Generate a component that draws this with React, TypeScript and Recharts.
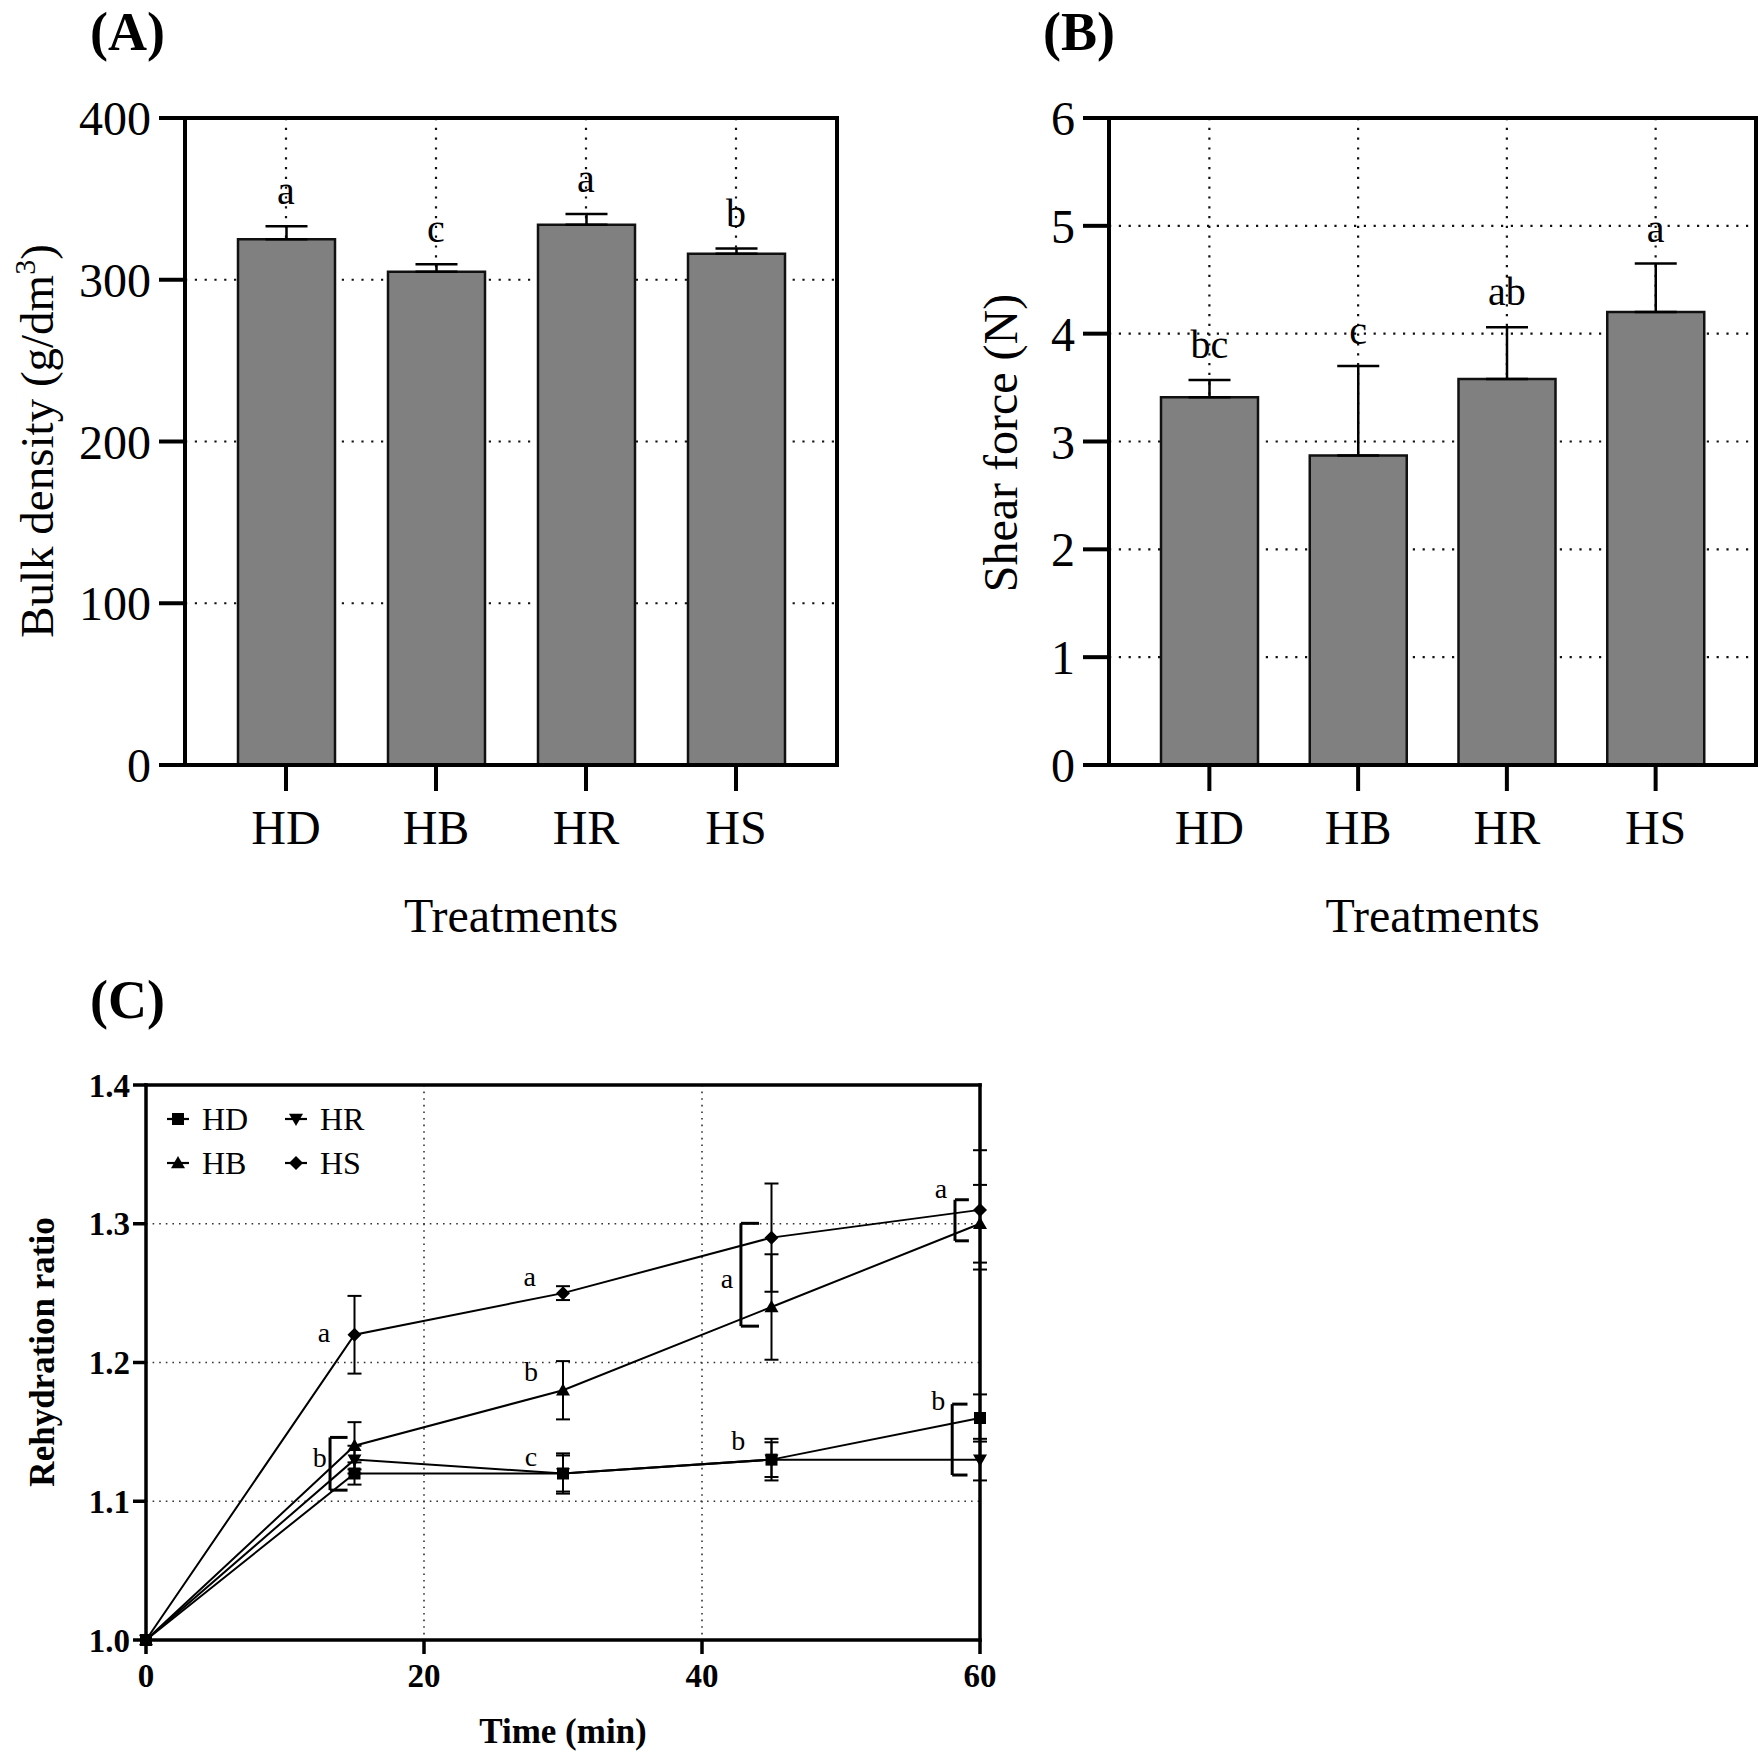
import React from 'react';
import {
  ComposedChart,
  Bar,
  Line,
  XAxis,
  YAxis,
  CartesianGrid,
  ErrorBar,
  LabelList,
  ReferenceLine,
  ReferenceDot,
  Legend,
} from 'recharts';

const FONT = '"Liberation Serif", "Times New Roman", Times, serif';

// ---------- Panel A / B data ----------
const treatments = ['HD', 'HB', 'HR', 'HS'];
const bulkDensity = [325, 305, 334, 316];
const bulkDensitySD = [8, 4.6, 6.7, 3.3];
const bulkLetters = ['a', 'c', 'a', 'b'];
const bulkTicks = [0, 100, 200, 300, 400];

const shearForce = [3.41, 2.87, 3.58, 4.2];
const shearForceSD = [0.16, 0.83, 0.48, 0.45];
const shearLetters = ['bc', 'c', 'ab', 'a'];
const shearTicks = [0, 1, 2, 3, 4, 5, 6];

// ---------- Panel C data ----------
const times = [0, 15, 30, 45, 60];
const hdRatio = [1.0, 1.12, 1.12, 1.13, 1.16];
const hdSD = [0, 0.008, 0.0145, 0.015, 0.017];
const hbRatio = [1.0, 1.14, 1.18, 1.24, 1.3];
const hbSD = [0, 0.017, 0.021, 0.038, 0.028];
const hrRatio = [1.0, 1.13, 1.12, 1.13, 1.13];
const hrSD = [0, 0.01, 0.013, 0.0125, 0.015];
const hsRatio = [1.0, 1.22, 1.25, 1.29, 1.31];
const hsSD = [0, 0.028, 0.005, 0.039, 0.043];
const timeTicks = [0, 20, 40, 60];
const ratioTicks = [1.0, 1.1, 1.2, 1.3, 1.4];

// significance letters (time, ratio, text)
const ratioLetterText = ['a', 'b', 'a', 'b', 'c', 'a', 'b', 'a', 'b'];
const ratioLetterTime = [12.8, 12.5, 27.6, 27.7, 27.7, 41.8, 42.6, 57.2, 57.0];
const ratioLetterValue = [1.221, 1.131, 1.2615, 1.1925, 1.1312, 1.2596, 1.143, 1.3248, 1.1718];

// significance brackets
const bracketTime = [13.24, 42.8, 58.2, 58.0];
const bracketArmTime = [14.5, 44.1, 59.2, 59.1];
const bracketLow = [1.108, 1.2262, 1.2877, 1.1189];
const bracketHigh = [1.146, 1.3003, 1.3173, 1.17];

type BarRow = { name: string; value: number; sd: number[]; top: number; letter: string };

function buildBarRows(values: number[], sds: number[], letters: string[]): BarRow[] {
  return treatments.map((name, i) => ({
    name,
    value: values[i],
    sd: [0, sds[i]],
    top: values[i] + sds[i],
    letter: letters[i],
  }));
}

const bulkRows = buildBarRows(bulkDensity, bulkDensitySD, bulkLetters);
const shearRows = buildBarRows(shearForce, shearForceSD, shearLetters);

const ratioRows = times.map((t, i) => ({
  t,
  HD: hdRatio[i],
  HDsd: hdSD[i],
  HB: hbRatio[i],
  HBsd: hbSD[i],
  HR: hrRatio[i],
  HRsd: hrSD[i],
  HS: hsRatio[i],
  HSsd: hsSD[i],
}));

const ratioLetters = ratioLetterText.map((text, i) => ({
  text,
  t: ratioLetterTime[i],
  v: ratioLetterValue[i],
}));

const brackets = bracketTime.map((t, i) => ({
  t,
  arm: bracketArmTime[i],
  lo: bracketLow[i],
  hi: bracketHigh[i],
}));

// ---------- Bar panel ----------
type BarPanelProps = {
  rows: BarRow[];
  ticks: number[];
  yMax: number;
  plotLeft: number;
  plotRight: number;
  yLabel: React.ReactNode;
  yLabelX: number;
  yLabelY: number;
  yLabelSize: number;
};

function BarPanel(p: BarPanelProps) {
  const width = 880;
  const height = 950;
  const plotTop = 118;
  const plotBottom = 765;
  const yAxisWidth = 100;
  const xAxisHeight = 60;
  const margin = {
    top: plotTop - 1,
    right: width - p.plotRight - 1,
    bottom: height - plotBottom - xAxisHeight,
    left: p.plotLeft - yAxisWidth,
  };
  const axisStyle: any = { stroke: '#000', strokeWidth: 4, strokeLinecap: 'square' };
  const tickLine: any = { stroke: '#000', strokeWidth: 4 };
  const tickStyle: any = { fontFamily: FONT, fontSize: 48, fill: '#000' };
  const xCenter = (p.plotLeft + p.plotRight) / 2;

  const renderXLabel = () => (
    <text x={xCenter} y={932} textAnchor="middle" fontFamily={FONT} fontSize={48} fill="#000">
      Treatments
    </text>
  );
  const renderYLabel = () => (
    <text
      x={p.yLabelX}
      y={p.yLabelY}
      transform={`rotate(-90 ${p.yLabelX} ${p.yLabelY})`}
      textAnchor="middle"
      fontFamily={FONT}
      fontSize={p.yLabelSize}
      fill="#000"
    >
      {p.yLabel}
    </text>
  );
  const renderLetter = (lp: any) => (
    <text
      x={lp.x}
      y={lp.y - 22}
      textAnchor="middle"
      fontFamily={FONT}
      fontSize={40}
      fill="#000"
    >
      {lp.value}
    </text>
  );

  return (
    <ComposedChart width={width} height={height} data={p.rows} margin={margin}>
      <CartesianGrid stroke="#111" strokeWidth={2.2} strokeDasharray="2.2 7.6" />
      <XAxis
        dataKey="name"
        type="category"
        height={xAxisHeight}
        padding={{ left: 26, right: 26 }}
        axisLine={axisStyle}
        tickLine={tickLine}
        tickSize={26}
        tickMargin={19}
        tick={tickStyle}
        interval={0}
        label={{ content: renderXLabel } as any}
      />
      <XAxis
        xAxisId="top"
        orientation="top"
        dataKey="name"
        type="category"
        height={1}
        padding={{ left: 26, right: 26 }}
        tick={false}
        tickLine={false}
        axisLine={axisStyle}
      />
      <YAxis
        type="number"
        domain={[0, p.yMax]}
        ticks={p.ticks}
        interval={0}
        width={yAxisWidth}
        axisLine={axisStyle}
        tickLine={tickLine}
        tickSize={26}
        tickMargin={8}
        tick={tickStyle}
        label={{ content: renderYLabel } as any}
      />
      <YAxis
        yAxisId="right"
        orientation="right"
        type="number"
        domain={[0, p.yMax]}
        ticks={p.ticks}
        width={1}
        tick={false}
        tickLine={false}
        axisLine={axisStyle}
      />
      <Bar
        dataKey="value"
        fill="#808080"
        stroke="#111"
        strokeWidth={2.5}
        barSize={97}
        isAnimationActive={false}
      >
        <ErrorBar dataKey="sd" width={21} stroke="#000" strokeWidth={2.5} direction="y" />
      </Bar>
      <Line
        dataKey="top"
        xAxisId="top"
        yAxisId="right"
        stroke="none"
        dot={false}
        activeDot={false}
        legendType="none"
        isAnimationActive={false}
      >
        <LabelList dataKey="letter" content={renderLetter} />
      </Line>
    </ComposedChart>
  );
}

// ---------- markers ----------
const markerSquare = (cx: number, cy: number, s = 6) => (
  <rect x={cx - s} y={cy - s} width={2 * s} height={2 * s} fill="#000" />
);
const markerUp = (cx: number, cy: number, s = 7) => (
  <polygon points={`${cx},${cy - s} ${cx + s},${cy + s * 0.75} ${cx - s},${cy + s * 0.75}`} fill="#000" />
);
const markerDown = (cx: number, cy: number, s = 7) => (
  <polygon points={`${cx - s},${cy - s * 0.75} ${cx + s},${cy - s * 0.75} ${cx},${cy + s}`} fill="#000" />
);
const markerDiamond = (cx: number, cy: number, s = 7) => (
  <polygon points={`${cx},${cy - s} ${cx + s},${cy} ${cx},${cy + s} ${cx - s},${cy}`} fill="#000" />
);

const markers: Record<string, (cx: number, cy: number, s?: number) => React.ReactElement> = {
  HD: markerSquare,
  HB: markerUp,
  HR: markerDown,
  HS: markerDiamond,
};

const makeDot = (name: string) => (props: any) => (
  <g key={`${name}-${props.index}`}>{markers[name](props.cx, props.cy)}</g>
);

// legend, row-major
const legendEntries = ['HD', 'HR', 'HB', 'HS'];

function RatioLegend() {
  return (
    <svg width={280} height={100} style={{ overflow: 'visible' }}>
      {legendEntries.map((name, i) => {
        const col = i % 2;
        const row = Math.floor(i / 2);
        const cx = 28 + col * 118;
        const cy = 29 + row * 44;
        return (
          <g key={name}>
            <line x1={cx - 11} x2={cx + 11} y1={cy} y2={cy} stroke="#000" strokeWidth={2.2} />
            {markers[name](cx, cy, name === 'HD' ? 6 : 7)}
            <text x={cx + 24} y={cy + 11} fontFamily={FONT} fontSize={32} fill="#000">
              {name}
            </text>
          </g>
        );
      })}
    </svg>
  );
}

function RatioPanel() {
  const width = 1000;
  const height = 805;
  const plotLeft = 146;
  const plotRight = 980;
  const plotTop = 135;
  const plotBottom = 690;
  const yAxisWidth = 80;
  const xAxisHeight = 60;
  const margin = {
    top: plotTop - 1,
    right: width - plotRight - 1,
    bottom: height - plotBottom - xAxisHeight,
    left: plotLeft - yAxisWidth,
  };
  const axisStyle: any = { stroke: '#000', strokeWidth: 3.5, strokeLinecap: 'square' };
  const tickLine: any = { stroke: '#000', strokeWidth: 3.5 };
  const tickStyle: any = { fontFamily: FONT, fontSize: 33, fontWeight: 'bold', fill: '#000' };

  const renderXLabel = () => (
    <text x={563} y={793} textAnchor="middle" fontFamily={FONT} fontSize={35} fontWeight="bold" fill="#000">
      Time (min)
    </text>
  );
  const renderYLabel = () => (
    <text
      x={54}
      y={402}
      transform="rotate(-90 54 402)"
      textAnchor="middle"
      fontFamily={FONT}
      fontSize={35}
      fontWeight="bold"
      fill="#000"
    >
      Rehydration ratio
    </text>
  );

  const seriesOrder = ['HS', 'HB', 'HR', 'HD'];

  return (
    <ComposedChart width={width} height={height} data={ratioRows} margin={margin}>
      <CartesianGrid stroke="#333" strokeWidth={1.6} strokeDasharray="1.6 5" />
      <XAxis
        dataKey="t"
        type="number"
        domain={[0, 60]}
        ticks={timeTicks}
        interval={0}
        height={xAxisHeight}
        axisLine={axisStyle}
        tickLine={tickLine}
        tickSize={14}
        tickMargin={10}
        tick={tickStyle}
        label={{ content: renderXLabel } as any}
      />
      <XAxis
        xAxisId="top"
        orientation="top"
        dataKey="t"
        type="number"
        domain={[0, 60]}
        ticks={timeTicks}
        height={1}
        tick={false}
        tickLine={false}
        axisLine={axisStyle}
      />
      <YAxis
        type="number"
        domain={[1.0, 1.4]}
        ticks={ratioTicks}
        interval={0}
        width={yAxisWidth}
        axisLine={axisStyle}
        tickLine={tickLine}
        tickSize={13}
        tickMargin={3}
        tick={tickStyle}
        tickFormatter={(v: number) => v.toFixed(1)}
        label={{ content: renderYLabel } as any}
      />
      <YAxis
        yAxisId="right"
        orientation="right"
        type="number"
        domain={[1.0, 1.4]}
        ticks={ratioTicks}
        width={1}
        tick={false}
        tickLine={false}
        axisLine={axisStyle}
      />
      {brackets.map((b, i) => (
        <ReferenceLine
          key={`bv-${i}`}
          segment={[{ x: b.t, y: b.lo }, { x: b.t, y: b.hi }]}
          stroke="#000"
          strokeWidth={3}
          ifOverflow="visible"
        />
      ))}
      {brackets.map((b, i) => (
        <ReferenceLine
          key={`bt-${i}`}
          segment={[{ x: b.t, y: b.hi }, { x: b.arm, y: b.hi }]}
          stroke="#000"
          strokeWidth={3}
          ifOverflow="visible"
        />
      ))}
      {brackets.map((b, i) => (
        <ReferenceLine
          key={`bb-${i}`}
          segment={[{ x: b.t, y: b.lo }, { x: b.arm, y: b.lo }]}
          stroke="#000"
          strokeWidth={3}
          ifOverflow="visible"
        />
      ))}
      {seriesOrder.map((name) => (
        <Line
          key={name}
          dataKey={name}
          name={name}
          type="linear"
          stroke="#000"
          strokeWidth={2}
          dot={makeDot(name)}
          activeDot={false}
          isAnimationActive={false}
        >
          <ErrorBar dataKey={`${name}sd`} width={7} stroke="#000" strokeWidth={2} direction="y" />
        </Line>
      ))}
      {ratioLetters.map((l, i) => (
        <ReferenceDot
          key={`l-${i}`}
          x={l.t}
          y={l.v}
          r={0}
          ifOverflow="visible"
          shape={(sp: any) => (
            <text
              x={sp.cx}
              y={sp.cy}
              dy="0.3em"
              textAnchor="middle"
              fontFamily={FONT}
              fontSize={28}
              fill="#000"
            >
              {l.text}
            </text>
          )}
        />
      ))}
      <Legend
        layout="horizontal"
        align="center"
        verticalAlign="middle"
        content={() => <RatioLegend />}
        wrapperStyle={{ position: 'absolute', left: 150, top: 140, width: 280, height: 100 }}
      />
    </ComposedChart>
  );
}

export default function App() {
  return (
    <div
      style={{
        position: 'absolute',
        left: 0,
        top: 0,
        width: 1760,
        height: 1755,
        background: '#fff',
        overflow: 'hidden',
      }}
    >
      <div style={{ position: 'absolute', left: 0, top: 0 }}>
        <BarPanel
          rows={bulkRows}
          ticks={bulkTicks}
          yMax={400}
          plotLeft={185}
          plotRight={837}
          yLabel={
            <>
              Bulk density (g/dm
              <tspan dy={-18} fontSize={30}>
                3
              </tspan>
              <tspan dy={18}>)</tspan>
            </>
          }
          yLabelX={53}
          yLabelY={441}
          yLabelSize={47}
        />
      </div>
      <div style={{ position: 'absolute', left: 880, top: 0 }}>
        <BarPanel
          rows={shearRows}
          ticks={shearTicks}
          yMax={6}
          plotLeft={229}
          plotRight={876}
          yLabel="Shear force (N)"
          yLabelX={137}
          yLabelY={443}
          yLabelSize={48}
        />
      </div>
      <div style={{ position: 'absolute', left: 0, top: 950 }}>
        <RatioPanel />
      </div>
      <svg
        width={1760}
        height={1755}
        style={{ position: 'absolute', left: 0, top: 0, pointerEvents: 'none' }}
      >
        <text x={90} y={50} fontFamily={FONT} fontSize={54} fontWeight="bold" fill="#000">
          (A)
        </text>
        <text x={1043} y={50} fontFamily={FONT} fontSize={54} fontWeight="bold" fill="#000">
          (B)
        </text>
        <text x={90} y={1018} fontFamily={FONT} fontSize={54} fontWeight="bold" fill="#000">
          (C)
        </text>
      </svg>
    </div>
  );
}
